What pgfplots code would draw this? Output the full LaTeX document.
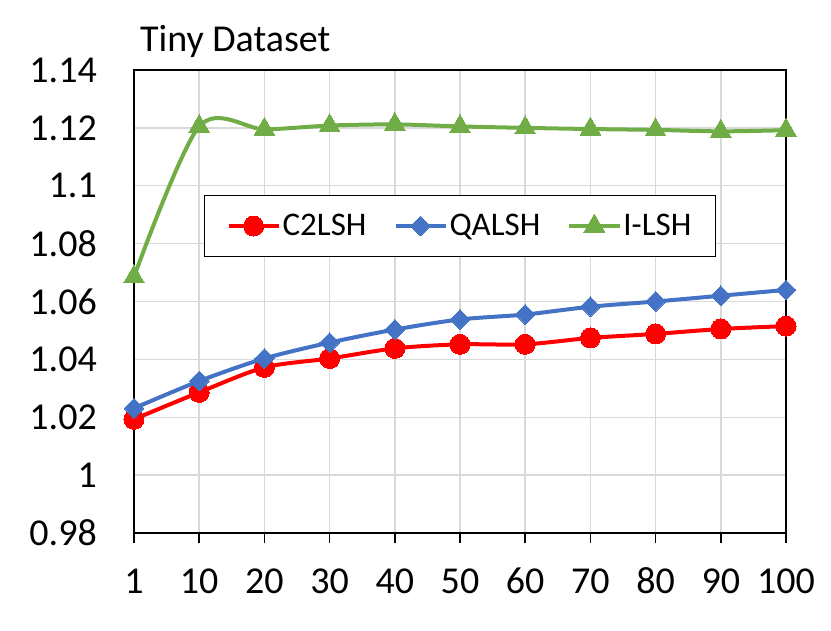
\documentclass[border=0pt]{standalone}
\usepackage{fontspec}
\setmainfont{Carlito}
\usepackage{graphicx}
\usepackage{pgfplots}
\pgfplotsset{compat=1.18}
\definecolor{cred}{HTML}{FF0000}
\definecolor{cblue}{HTML}{4472C4}
\definecolor{cgreen}{HTML}{70AD47}
\definecolor{cgrid}{HTML}{D9D9D9}
\begin{document}
\begin{tikzpicture}
\path (-134bp,-98bp) rectangle (697bp,533bp);
\begin{axis}[
  scale only axis, width=652bp, height=463bp,
  xmin=0, xmax=10, ymin=0.98, ymax=1.14,
  xtick={0,1,2,3,4,5,6,7,8,9,10},
  xticklabels={1,10,20,30,40,50,60,70,80,90,100},
  ytick={0.98,1.00,1.02,1.04,1.06,1.08,1.10,1.12,1.14},
  yticklabels={0.98,1,1.02,1.04,1.06,1.08,1.1,1.12,1.14},
  grid=major, major grid style={cgrid, line width=1.5bp},
  axis line style={black, line width=1.8bp},
  tick align=outside, xtick pos=bottom,
  xtick style={black, line width=1.5bp}, major tick length=10bp,
  ytick style={draw=none},
  tick label style={font=\fontsize{38bp}{42bp}\selectfont},
  yticklabel style={anchor=east, inner sep=0pt, xshift=-27bp},
  xticklabel style={anchor=base, inner sep=0pt, yshift=-50bp},
  clip mode=individual,
  legend columns=3,
  legend style={at={(0.5,0.663)}, anchor=center, draw=black, line width=1.2bp,
    font=\fontsize{33bp}{37bp}\selectfont, inner xsep=22bp, inner ysep=17bp,
    /tikz/every even column/.append style={column sep=25bp}},
  legend image code/.code={\draw[mark repeat=2,mark phase=2,#1] plot coordinates {(0bp,0bp) (25bp,0bp) (50bp,0bp)};},
]
\addplot[cred, line width=4bp, smooth, mark=*, mark size=10bp, mark options={solid, fill=cred, draw=cred, line width=0bp}]
coordinates {(0,1.0193) (1,1.0286) (2,1.0372) (3,1.0403) (4,1.0438) (5,1.0452) (6,1.0452) (7,1.0474) (8,1.0488) (9,1.0505) (10,1.0515)};
\addlegendentry{C2LSH}
\addplot[cblue, line width=4bp, smooth, mark=square*, mark size=7bp, mark options={solid, rotate=45, fill=cblue, draw=cblue, line width=0bp}]
coordinates {(0,1.0231) (1,1.0325) (2,1.0403) (3,1.0458) (4,1.0503) (5,1.0538) (6,1.0555) (7,1.0582) (8,1.0600) (9,1.0620) (10,1.0640)};
\addlegendentry{QALSH}
\addplot[cgreen, line width=4bp, smooth, mark=triangle*, mark size=12bp, mark options={solid, fill=cgreen, draw=cgreen, line width=0bp}]
coordinates {(0,1.0685) (1,1.1205) (2,1.1195) (3,1.1208) (4,1.1212) (5,1.1205) (6,1.1200) (7,1.1196) (8,1.1193) (9,1.1188) (10,1.1192)};
\addlegendentry{I-LSH}
\node[anchor=base west, inner sep=0pt, font=\fontsize{38bp}{42bp}\selectfont] at (rel axis cs:0.009,1.039) {Tiny Dataset};
\end{axis}
\end{tikzpicture}
\end{document}
